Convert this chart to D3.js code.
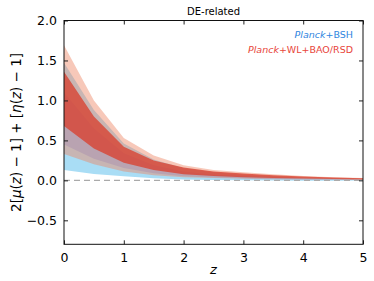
<!DOCTYPE html>
<html>
<head>
<meta charset="utf-8">
<script src="https://cdn.jsdelivr.net/npm/d3@7"></script>
<style>
  body { margin: 0; background: #fff; }
  text { font-family: "DejaVu Sans", sans-serif; }
</style>
</head>
<body>
<div class="canvas"></div>
<script>
// redshift grid
const zs = [0, 0.5, 1, 1.5, 2, 2.5, 3, 3.5, 4, 4.5, 5];

// Planck+BSH
const blue95Lo = [0.13, 0.08, 0.05, 0.025, 0.012, 0.005, 0.0, -0.003, -0.004, -0.004, -0.003];
const blue95Up = [1.47, 0.88, 0.46, 0.26, 0.15, 0.1, 0.07, 0.05, 0.035, 0.025, 0.018];
const blue68Lo = [0.45, 0.27, 0.155, 0.09, 0.05, 0.035, 0.025, 0.018, 0.012, 0.008, 0.005];
const blue68Up = [1.1, 0.65, 0.34, 0.19, 0.11, 0.07, 0.05, 0.035, 0.025, 0.018, 0.012];

// Planck+WL+BAO/RSD
const red95Lo = [0.33, 0.2, 0.11, 0.065, 0.04, 0.028, 0.02, 0.015, 0.011, 0.008, 0.005];
const red95Up = [1.69, 1.0, 0.53, 0.31, 0.19, 0.13, 0.1, 0.075, 0.055, 0.04, 0.03];
const red68Lo = [0.68, 0.4, 0.22, 0.13, 0.075, 0.055, 0.04, 0.03, 0.022, 0.016, 0.012];
const red68Up = [1.36, 0.8, 0.42, 0.25, 0.16, 0.11, 0.085, 0.065, 0.048, 0.035, 0.025];

const xTicks = [0, 1, 2, 3, 4, 5];
const yTicks = [-0.5, 0, 0.5, 1.0, 1.5, 2.0];

const dims = { width: 374, height: 281 };
const margin = { left: 64, right: 11, top: 20.5, bottom: 36.7 };

const svg = d3
  .select(".canvas")
  .append("svg")
  .attr("width", dims.width)
  .attr("height", dims.height);

const x = d3.scaleLinear().domain([0, 5]).range([margin.left, dims.width - margin.right]);
const y = d3.scaleLinear().domain([-0.8, 2.0]).range([dims.height - margin.bottom, margin.top]);

const band = (lo, up) =>
  d3.area()
    .x((d, i) => x(zs[i]))
    .y0((d, i) => y(lo[i]))
    .y1((d, i) => y(up[i]))(zs);

// Bands: blue first, red on top with transparency
const bands = [
  { lo: blue95Lo, up: blue95Up, fill: "#a9ddf5", op: 1 },
  { lo: blue68Lo, up: blue68Up, fill: "#8fbcf0", op: 1 },
  { lo: red95Lo, up: red95Up, fill: "#ee8463", op: 0.45 },
  { lo: red68Lo, up: red68Up, fill: "#d8402f", op: 0.78 },
];

svg.append("g")
  .selectAll("path")
  .data(bands)
  .enter()
  .append("path")
  .attr("d", (d) => band(d.lo, d.up))
  .attr("fill", (d) => d.fill)
  .attr("fill-opacity", (d) => d.op);

// zero line
svg.append("line")
  .attr("x1", x(0)).attr("x2", x(5))
  .attr("y1", y(0)).attr("y2", y(0))
  .attr("stroke", "#aaaaaa")
  .attr("stroke-width", 1.3)
  .attr("stroke-dasharray", "6,4");

// axes with inside ticks
const fmtY = (d) => (d < 0 ? "\u2212" : "") + d3.format(".1f")(Math.abs(d));

const axBottom = svg.append("g")
  .attr("transform", `translate(0, ${y(-0.8)})`)
  .call(d3.axisBottom(x).tickValues(xTicks).tickSizeInner(-4).tickSizeOuter(0).tickPadding(9).tickFormat(d3.format("d")));
const axLeft = svg.append("g")
  .attr("transform", `translate(${x(0)}, 0)`)
  .call(d3.axisLeft(y).tickValues(yTicks).tickSizeInner(-4).tickSizeOuter(0).tickPadding(7).tickFormat(fmtY));
const axTop = svg.append("g")
  .attr("transform", `translate(0, ${y(2.0)})`)
  .call(d3.axisTop(x).tickValues(xTicks).tickSizeInner(-4).tickSizeOuter(0).tickFormat(""));
const axRight = svg.append("g")
  .attr("transform", `translate(${x(5)}, 0)`)
  .call(d3.axisRight(y).tickValues(yTicks).tickSizeInner(-4).tickSizeOuter(0).tickFormat(""));

[axBottom, axLeft, axTop, axRight].forEach((g) => {
  g.select(".domain").remove();
  g.selectAll("line").attr("stroke", "#222");
  g.selectAll("text")
    .attr("font-family", "DejaVu Sans, sans-serif")
    .attr("font-size", 12.5)
    .attr("fill", "#000");
});

// frame
svg.append("rect")
  .attr("x", x(0)).attr("y", y(2.0))
  .attr("width", x(5) - x(0))
  .attr("height", y(-0.8) - y(2.0))
  .attr("fill", "none")
  .attr("stroke", "#111")
  .attr("stroke-width", 1);

// title
svg.append("text")
  .attr("x", (x(0) + x(5)) / 2)
  .attr("y", 15)
  .attr("text-anchor", "middle")
  .attr("font-size", 10)
  .text("DE-related");

// legend
const legend = [
  { rest: "+BSH", color: "#2f86e0", yy: 38 },
  { rest: "+WL+BAO/RSD", color: "#e8453a", yy: 53 },
];
legend.forEach((l) => {
  const t = svg.append("text")
    .attr("x", x(5) - 10)
    .attr("y", l.yy)
    .attr("text-anchor", "end")
    .attr("font-size", 9.5)
    .attr("fill", l.color);
  t.append("tspan").attr("font-style", "italic").text("Planck");
  t.append("tspan").text(l.rest);
});

// x label
svg.append("text")
  .attr("x", (x(0) + x(5)) / 2)
  .attr("y", 274)
  .attr("text-anchor", "middle")
  .attr("font-family", "DejaVu Serif, serif")
  .attr("font-style", "italic")
  .attr("font-size", 13)
  .text("z");

// y label
const yl = svg.append("text")
  .attr("transform", `translate(21, ${(y(2.0) + y(-0.8)) / 2}) rotate(-90)`)
  .attr("text-anchor", "middle")
  .attr("font-family", "DejaVu Serif, serif")
  .attr("font-size", 13.5);
yl.append("tspan").text("2[");
yl.append("tspan").attr("font-style", "italic").text("\u03bc");
yl.append("tspan").text("(");
yl.append("tspan").attr("font-style", "italic").text("z");
yl.append("tspan").text(") \u2212 1] + [");
yl.append("tspan").attr("font-style", "italic").text("\u03b7");
yl.append("tspan").text("(");
yl.append("tspan").attr("font-style", "italic").text("z");
yl.append("tspan").text(") \u2212 1]");
</script>
</body>
</html>
